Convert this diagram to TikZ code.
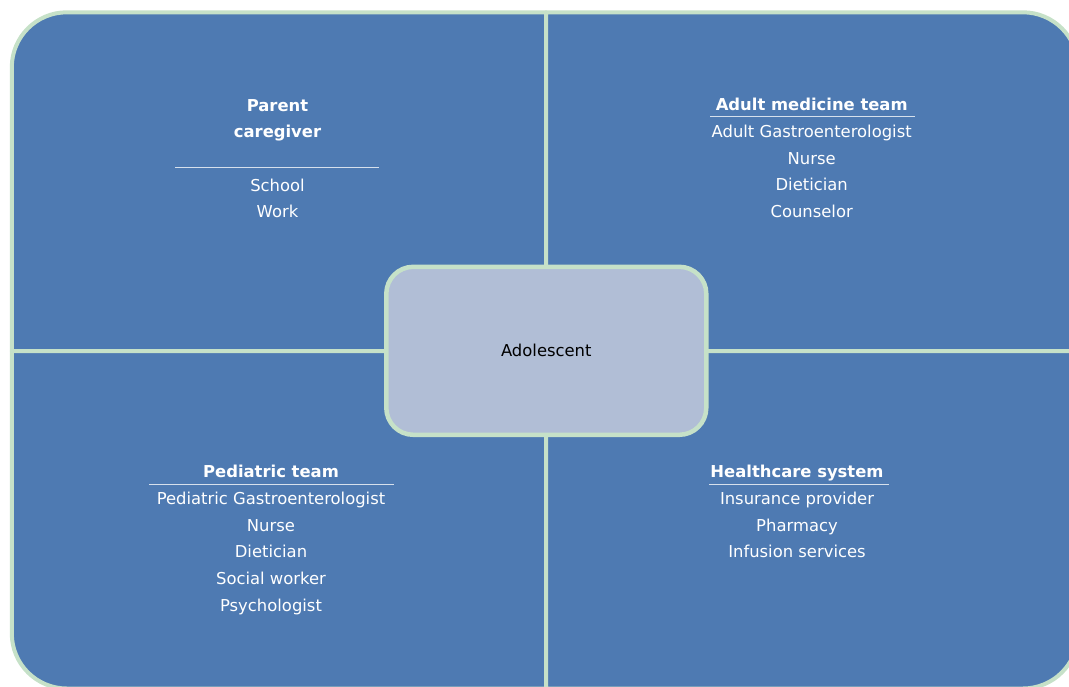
\documentclass[tikz,border=0pt]{standalone}
\usepackage{fontspec}
\setmainfont{DejaVu Sans}
\definecolor{quadblue}{RGB}{78,122,178}
\definecolor{edgegreen}{RGB}{198,225,200}
\definecolor{centerfill}{RGB}{177,190,214}
\definecolor{rulecol}{RGB}{214,224,236}
\begin{document}
\begin{tikzpicture}[x=1pt,y=-1pt,
  quad/.style={fill=quadblue,draw=edgegreen,line width=4pt,line join=round},
  centerbox/.style={fill=centerfill,draw=edgegreen,line width=4.5pt,rounded corners=27pt,
     minimum width=320pt,minimum height=168pt,inner sep=0pt,
     font=\fontsize{16.4}{19}\selectfont,text=black},
  lbl/.style={anchor=base,inner sep=0pt,text=white,font=\fontsize{16.4}{19}\selectfont},
  hd/.style={lbl,font=\fontsize{16.4}{19}\selectfont\bfseries},
  headrule/.style={draw=rulecol,line width=1.4pt}
]
\useasboundingbox (0,0) rectangle (1069,686);
\clip (0,0) rectangle (1069,686);
% quadrants
\path[quad] (546,351) -- (11.8,351) -- (11.8,67.3) arc[start angle=180,end angle=270,radius=55] -- (546,12.3) -- cycle;
\path[quad] (546,351) -- (546,12.3) -- (1023,12.3) arc[start angle=270,end angle=360,radius=55] -- (1078,351) -- cycle;
\path[quad] (546,351) -- (11.8,351) -- (11.8,633.5) arc[start angle=180,end angle=90,radius=55] -- (546,688.5) -- cycle;
\path[quad] (546,351) -- (1078,351) -- (1078,633.5) arc[start angle=0,end angle=90,radius=55] -- (546,688.5) -- cycle;
% centre
\node[centerbox] (ado) at (546.3,350.8) {Adolescent};
% top-left
\node[hd] (pc1) at (277.5,111) {Parent};
\node[hd] (pc2) at (277.5,137.7) {caregiver};
\coordinate (pcL) at (175,167.3);
\coordinate (pcR) at (379,167.3);
\draw[headrule] (pcL) -- (pcR);
\node[lbl] (pc3) at (277.5,191) {School};
\node[lbl] (pc4) at (277.5,217.5) {Work};
% top-right
\node[hd] (am0) at (811.7,110.5) {Adult medicine team};
\coordinate (amL) at (710,116.5);
\coordinate (amR) at (914.5,116.5);
\draw[headrule] (amL) -- (amR);
\node[lbl] (am1) at (811.7,137.3) {Adult Gastroenterologist};
\node[lbl] (am2) at (811.7,164) {Nurse};
\node[lbl] (am3) at (811.7,190.7) {Dietician};
\node[lbl] (am4) at (811.7,217.4) {Counselor};
% bottom-left
\node[hd] (pt0) at (271,477.3) {Pediatric team};
\coordinate (ptL) at (149,484.3);
\coordinate (ptR) at (394,484.3);
\draw[headrule] (ptL) -- (ptR);
\node[lbl] (pt1) at (271,504.3) {Pediatric Gastroenterologist};
\node[lbl] (pt2) at (271,531) {Nurse};
\node[lbl] (pt3) at (271,557.7) {Dietician};
\node[lbl] (pt4) at (271,584.4) {Social worker};
\node[lbl] (pt5) at (271,611.1) {Psychologist};
% bottom-right
\node[hd] (hs0) at (797,477.3) {Healthcare system};
\coordinate (hsL) at (709,484.3);
\coordinate (hsR) at (889,484.3);
\draw[headrule] (hsL) -- (hsR);
\node[lbl] (hs1) at (797,504.3) {Insurance provider};
\node[lbl] (hs2) at (797,531) {Pharmacy};
\node[lbl] (hs3) at (797,557.7) {Infusion services};
\end{tikzpicture}
\end{document}
